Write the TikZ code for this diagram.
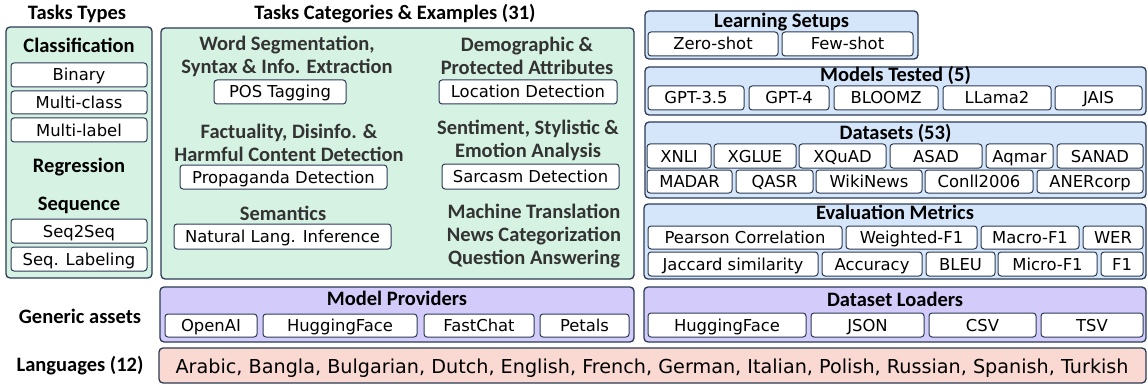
\documentclass[tikz,border=0pt]{standalone}
\usepackage{fontspec}
\setmainfont{DejaVu Sans}
\newfontfamily\headfont{Carlito}
\usepackage{tikz}
\definecolor{edgeblue}{HTML}{2B3A55}
\definecolor{taskgreen}{HTML}{D5F2E3}
\definecolor{setupblue}{HTML}{D5E6FA}
\definecolor{assetpurple}{HTML}{D3CCFA}
\definecolor{langpink}{HTML}{FBD9D3}
\definecolor{headgray}{HTML}{333333}

\begin{document}
\begin{tikzpicture}[x=1pt, y=-1pt,
  panel/.style={draw=edgeblue, line width=1.3pt, rounded corners=4pt, inner sep=0pt},
  item/.style={draw=edgeblue, fill=white, line width=1pt, rounded corners=3pt, inner sep=0pt, minimum height=24, text height=12, text depth=0, font=\fontsize{16.4}{20}\selectfont},
  heading/.style={inner sep=0pt, align=center, text=headgray, font=\headfont\bfseries\fontsize{20.5}{23}\selectfont},
  boxtitle/.style={inner sep=0pt, text height=13, text depth=0, font=\headfont\bfseries\fontsize{20.5}{23}\selectfont}]
\useasboundingbox (0,0) rectangle (1148,385);
\node[boxtitle] (TasksTypesTitle) at (77,13) {Tasks Types};
\node[boxtitle] (TasksCategoriesTitle) at (395,13) {Tasks Categories \& Examples (31)};
\node[panel, fill=taskgreen, minimum width=146, minimum height=251] (TasksTypes) at (79,152.5) {};
\node[heading, text=black] (Classification) at (79,45) {Classification};
\node[item, minimum width=136] (Binary) at (79,75) {Binary};
\node[item, minimum width=136, minimum height=23] (MultiClass) at (79,102.5) {Multi-class};
\node[item, minimum width=136] (MultiLabel) at (79,130) {Multi-label};
\node[heading, text=black] (Regression) at (79,167) {Regression};
\node[heading, text=black] (Sequence) at (79,205) {Sequence};
\node[item, minimum width=136] (SeqToSeq) at (79,231) {Seq2Seq};
\node[item, minimum width=136] (SeqLabeling) at (79,259) {Seq. Labeling};
\node[panel, fill=taskgreen, minimum width=473, minimum height=251] (TasksCategories) at (397.5,153.5) {};
\node[heading] (WordSegmentation) at (287,56.5) {Word Segmentation,\\Syntax \& Info. Extraction};
\node[item, minimum width=132] (POSTagging) at (280,92) {POS Tagging};
\node[heading] (Factuality) at (289,143) {Factuality, Disinfo. \&\\Harmful Content Detection};
\node[item, minimum width=207] (Propaganda) at (283.5,177) {Propaganda Detection};
\node[heading] (Semantics) at (283,213) {Semantics};
\node[item, minimum width=217, minimum height=25] (NLI) at (282.5,236.5) {Natural Lang. Inference};
\node[heading] (Demographic) at (527,56) {Demographic \&\\Protected Attributes};
\node[item, minimum width=178] (Location) at (528,92) {Location Detection};
\node[heading] (Sentiment) at (528,140.5) {Sentiment, Stylistic \&\\Emotion Analysis};
\node[item, minimum width=177, minimum height=25] (Sarcasm) at (530.5,176.5) {Sarcasm Detection};
\node[heading] (OtherTasks) at (534,236) {Machine Translation\\News Categorization\\Question Answering};
\node[panel, fill=setupblue, minimum width=273, minimum height=48] (LearningSetups) at (781.5,35) {};
\node[boxtitle] (LearningSetupsTitle) at (781.5,21) {Learning Setups};
\node[item, minimum width=130] (ZeroShot) at (713,44) {Zero-shot};
\node[item, minimum width=131] (FewShot) at (847.5,44) {Few-shot};
\node[panel, fill=setupblue, minimum width=501, minimum height=48] (ModelsTested) at (895.5,91) {};
\node[boxtitle] (ModelsTestedTitle) at (895.5,75) {Models Tested (5)};
\node[item, minimum width=96] (GPTthree) at (696,98) {GPT-3.5};
\node[item, minimum width=80] (GPTfour) at (789,98) {GPT-4};
\node[item, minimum width=104] (BLOOMZ) at (886,98) {BLOOMZ};
\node[item, minimum width=108] (LLama) at (997,98) {LLama2};
\node[item, minimum width=87] (JAIS) at (1098.5,98) {JAIS};
\node[panel, fill=setupblue, minimum width=501, minimum height=76] (Datasets) at (895.5,160) {};
\node[boxtitle] (DatasetsTitle) at (895.5,133) {Datasets (53)};
\node[item, minimum width=64] (XNLI) at (679,156) {XNLI};
\node[item, minimum width=82] (XGLUE) at (755,156) {XGLUE};
\node[item, minimum width=87] (XQuAD) at (842.5,156) {XQuAD};
\node[item, minimum width=92] (ASAD) at (936,156) {ASAD};
\node[item, minimum width=67] (Aqmar) at (1019.5,156) {Aqmar};
\node[item, minimum width=86] (SANAD) at (1100,156) {SANAD};
\node[item, minimum width=85, minimum height=23] (MADAR) at (689.5,181.5) {MADAR};
\node[item, minimum width=77, minimum height=23] (QASR) at (774.5,181.5) {QASR};
\node[item, minimum width=106, minimum height=23] (WikiNews) at (869,181.5) {WikiNews};
\node[item, minimum width=108, minimum height=23] (Conll) at (979,181.5) {Conll2006};
\node[item, minimum width=106, minimum height=23] (ANERcorp) at (1090,181.5) {ANERcorp};
\node[panel, fill=setupblue, minimum width=502, minimum height=75] (EvaluationMetrics) at (895,241.5) {};
\node[boxtitle] (EvaluationMetricsTitle) at (895,213) {Evaluation Metrics};
\node[item, minimum width=194, minimum height=23] (Pearson) at (745,237.5) {Pearson Correlation};
\node[item, minimum width=131, minimum height=23] (WeightedFone) at (911.5,237.5) {Weighted-F1};
\node[item, minimum width=98, minimum height=23] (MacroFone) at (1030,237.5) {Macro-F1};
\node[item, minimum width=60, minimum height=23] (WER) at (1113,237.5) {WER};
\node[item, minimum width=170] (Jaccard) at (733,264) {Jaccard similarity};
\node[item, minimum width=100] (Accuracy) at (872,264) {Accuracy};
\node[item, minimum width=69] (BLEU) at (960.5,264) {BLEU};
\node[item, minimum width=99] (MicroFone) at (1047.5,264) {Micro-F1};
\node[item, minimum width=42] (Fone) at (1122,264) {F1};
\node[boxtitle] (GenericAssets) at (80,317) {Generic assets};
\node[panel, fill=assetpurple, minimum width=474, minimum height=55] (ModelProviders) at (397,314.5) {};
\node[boxtitle] (ModelProvidersTitle) at (397,299) {Model Providers};
\node[item, minimum width=92, minimum height=23] (OpenAI) at (211,325.5) {OpenAI};
\node[item, minimum width=154, minimum height=23] (HuggingFaceModels) at (340,325.5) {HuggingFace};
\node[item, minimum width=110, minimum height=23] (FastChat) at (479,325.5) {FastChat};
\node[item, minimum width=89, minimum height=23] (Petals) at (584.5,325.5) {Petals};
\node[panel, fill=assetpurple, minimum width=502, minimum height=55] (DatasetLoaders) at (895,314.5) {};
\node[boxtitle] (DatasetLoadersTitle) at (895,300) {Dataset Loaders};
\node[item, minimum width=158] (HuggingFaceData) at (727,325) {HuggingFace};
\node[item, minimum width=113] (JSON) at (867.5,325) {JSON};
\node[item, minimum width=107] (CSV) at (982.5,325) {CSV};
\node[item, minimum width=102] (TSV) at (1092,325) {TSV};
\node[boxtitle] (LanguagesTitle) at (80,365) {Languages (12)};
\node[panel, fill=langpink, minimum width=987, minimum height=35] (Languages) at (652.5,365.5) {};
\node[inner sep=0pt, text height=14, text depth=0, font=\fontsize{19.2}{23}\selectfont] (LanguagesList) at (652,366) {Arabic, Bangla, Bulgarian, Dutch, English, French, German, Italian, Polish, Russian, Spanish, Turkish};
\end{tikzpicture}
\end{document}
